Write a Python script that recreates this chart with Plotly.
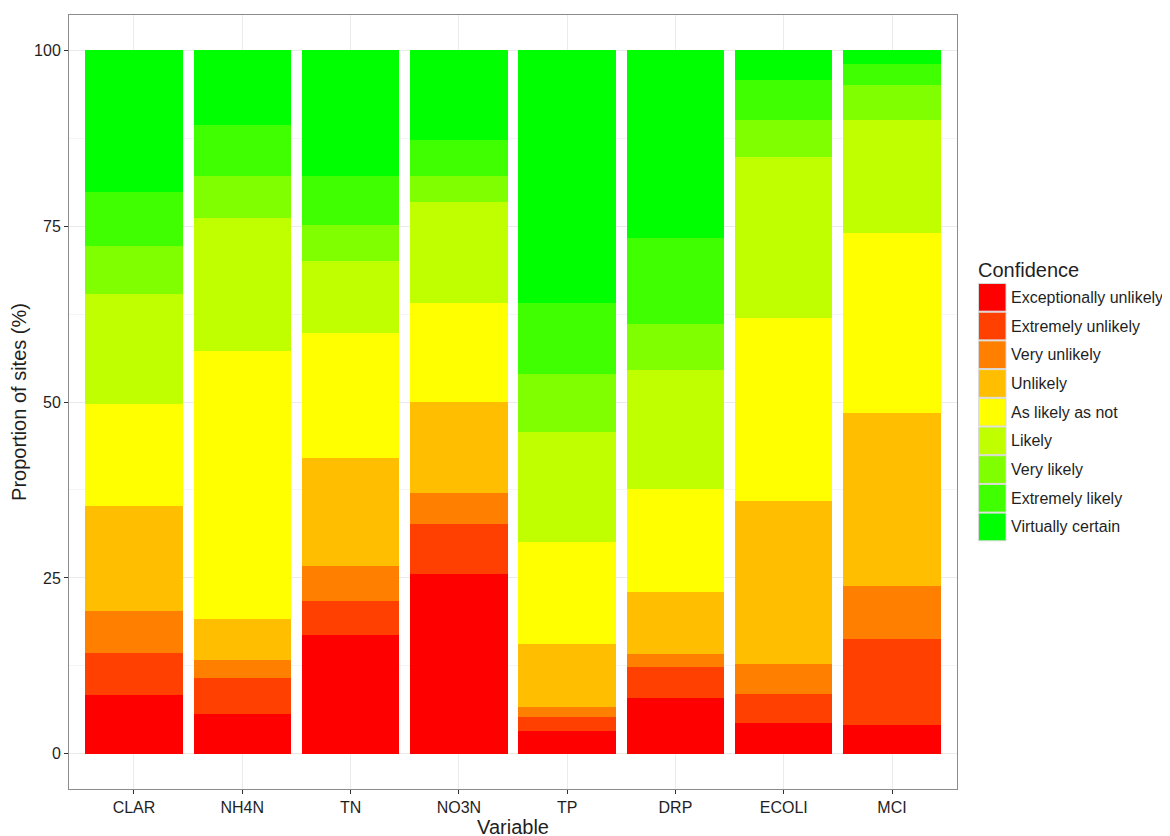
import plotly.graph_objects as go

variables = ["CLAR", "NH4N", "TN", "NO3N", "TP", "DRP", "ECOLI", "MCI"]
levels = ["Exceptionally unlikely", "Extremely unlikely", "Very unlikely", "Unlikely",
          "As likely as not", "Likely", "Very likely", "Extremely likely", "Virtually certain"]
colors = ["#FF0000", "#FF4000", "#FF8000", "#FFBF00", "#FFFF00",
          "#BFFF00", "#80FF00", "#40FF00", "#00FF00"]

# Proportions (%) per confidence level, one list per level, in the order of `variables`
exceptionally_unlikely = [8.3, 5.7, 16.9, 25.5, 3.2, 8.0, 4.4, 4.1]
extremely_unlikely     = [6.0, 5.1, 4.8, 7.1, 2.1, 4.4, 4.1, 12.2]
very_unlikely          = [6.0, 2.6, 5.0, 4.4, 1.4, 1.8, 4.3, 7.6]
unlikely               = [14.9, 5.8, 15.3, 13.0, 8.9, 8.8, 23.2, 24.6]
as_likely_as_not       = [14.5, 38.0, 17.8, 14.0, 14.5, 14.7, 26.0, 25.5]
likely                 = [15.7, 19.0, 10.2, 14.4, 15.7, 16.8, 22.8, 16.1]
very_likely            = [6.8, 5.9, 5.2, 3.7, 8.2, 6.6, 5.3, 4.9]
extremely_likely       = [7.6, 7.2, 6.9, 5.1, 10.0, 12.2, 5.6, 3.1]
virtually_certain      = [20.2, 10.7, 17.9, 12.8, 36.0, 26.7, 4.3, 1.9]

series = [exceptionally_unlikely, extremely_unlikely, very_unlikely, unlikely,
          as_likely_as_not, likely, very_likely, extremely_likely, virtually_certain]

fig = go.Figure()
for name, col, vals in zip(levels, colors, series):
    fig.add_trace(go.Bar(x=variables, y=vals, name=name, width=0.9,
                         marker=dict(color=col, line=dict(width=0)),
                         showlegend=False))

font_family = "Liberation Sans, Arial, sans-serif"
TEXT = "#1F1F1F"
BORDER = "#8C8C8C"

# page has an 8px body margin; compensate so the panel lands at page x 69-957, y 15-789
OFF = 8
W, H = 1170, 836
L, R, T, B = 69 - OFF, W - (957 - OFF), 15 - OFF, H - (789 - OFF)
PW, PH = W - L - R, H - T - B

fig.update_layout(
    barmode="stack",
    width=W, height=H,
    margin=dict(l=L, r=R, t=T, b=B),
    paper_bgcolor="white", plot_bgcolor="white",
    font=dict(family=font_family, size=16, color="black"),
    xaxis=dict(
        type="category", range=[-0.6, 7.6],
        showgrid=True, gridcolor="#EBEBEB", gridwidth=1,
        ticks="outside", ticklen=4, tickcolor="#333333",
        tickfont=dict(size=16, color=TEXT),
        showline=True, linecolor=BORDER, linewidth=1, mirror=True,
        title=dict(text="Variable", font=dict(size=20, color=TEXT), standoff=2),
        zeroline=False,
    ),
    yaxis=dict(
        range=[-5, 105], tickvals=[0, 25, 50, 75, 100],
        showgrid=True, gridcolor="#EBEBEB", gridwidth=1,
        minor=dict(tickvals=[12.5, 37.5, 62.5, 87.5], showgrid=True,
                   gridcolor="#F5F5F5", gridwidth=1),
        ticks="outside", ticklen=4, tickcolor="#333333",
        tickfont=dict(size=16, color=TEXT),
        showline=True, linecolor=BORDER, linewidth=1, mirror=True,
        title=dict(text="Proportion of sites (%)", font=dict(size=20, color=TEXT), standoff=4),
        zeroline=False,
    ),
)

# Custom legend (ggplot-style square keys); positions given in page pixels
def px_x(x):
    return (x - OFF - L) / PW
def px_y(y):
    return (H - B - (y - OFF)) / PH

shapes = []
annotations = [dict(text="Confidence", x=px_x(976), y=px_y(270), xref="paper", yref="paper",
                    xanchor="left", yanchor="middle", showarrow=False,
                    font=dict(size=20, color=TEXT, family=font_family))]
top0 = 283.5
step = 28.7
for i, (name, col) in enumerate(zip(levels, colors)):
    y0 = top0 + i * step
    y1 = y0 + step - 1
    shapes.append(dict(type="rect", xref="paper", yref="paper",
                       x0=px_x(978.5), x1=px_x(1006), y0=px_y(y1), y1=px_y(y0),
                       fillcolor=col, line=dict(color="#D9D9D9", width=1)))
    annotations.append(dict(text=name, x=px_x(1009), y=px_y((y0 + y1) / 2),
                            xref="paper", yref="paper", xanchor="left", yanchor="middle",
                            showarrow=False,
                            font=dict(size=16, color=TEXT, family=font_family)))

fig.update_layout(shapes=shapes, annotations=annotations)
fig.write_html("out.html")
